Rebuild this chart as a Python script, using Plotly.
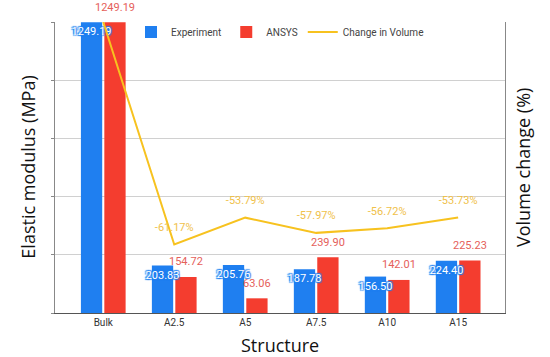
import plotly.graph_objects as go

categories = ["Bulk", "A2.5", "A5", "A7.5", "A10", "A15"]
experiment = [1249.19, 203.83, 205.76, 187.78, 156.50, 224.40]
ansys = [1249.19, 154.72, 63.06, 239.90, 142.01, 225.23]
volume_change = [0.0, -61.17, -53.79, -57.97, -56.72, -53.73]
volume_labels = ["", "-61.17%", "-53.79%", "-57.97%", "-56.72%", "-53.73%"]

BLUE = "#1f7ff0"
RED = "#f43d2f"
YELLOW = "#f7c21f"
RED_TXT = "#e5605a"
FONT = "Roboto"

BAR_W = 0.3
GAP = 0.03
X_RANGE = [-0.68, 5.66]
PLOT_W = 450
PX_PER_CAT = PLOT_W / (X_RANGE[1] - X_RANGE[0])

fig = go.Figure()
# ANSYS drawn first so the Experiment labels sit on top of the red bars
fig.add_trace(go.Bar(
    x=categories, y=ansys, name="ANSYS", marker_color=RED, marker_line_width=0,
    width=BAR_W, offset=GAP / 2, legendrank=2, cliponaxis=False,
))
fig.add_trace(go.Bar(
    x=categories, y=experiment, name="Experiment", marker_color=BLUE,
    marker_line_width=0, width=BAR_W, offset=-BAR_W - GAP / 2, legendrank=1,
    texttemplate="%{y:.2f}", textposition="inside", insidetextanchor="end",
    textangle=0, constraintext="none", cliponaxis=False,
    textfont=dict(color="white", size=11, family=FONT,
                  shadow=f"1px 1px 1px {BLUE}, -1px -1px 1px {BLUE}, 1px -1px 1px {BLUE}, -1px 1px 1px {BLUE}"),
))
fig.add_trace(go.Scatter(
    x=categories, y=volume_change, name="Change in Volume", yaxis="y2",
    mode="lines+markers+text", text=volume_labels, textposition="top center",
    line=dict(color=YELLOW, width=2), cliponaxis=False, legendrank=3,
    marker=dict(size=16, color="rgba(0,0,0,0)"),
    textfont=dict(color="#f0c14a", size=11, family=FONT),
))

red_labels = [
    dict(x=c, y=v, xref="x", yref="y", text=f"{v:.2f}", showarrow=False,
         xshift=(GAP / 2 + BAR_W / 2) * PX_PER_CAT, yshift=15,
         font=dict(size=11, color=RED_TXT, family=FONT))
    for c, v in zip(categories, ansys)
]

fig.update_layout(
    width=550, height=357,
    margin=dict(l=55, r=45, t=22, b=44),
    paper_bgcolor="white", plot_bgcolor="white",
    barmode="overlay",
    showlegend=True,
    legend=dict(orientation="h", x=0.5, xanchor="center", y=0.966, yanchor="middle",
                font=dict(size=10, color="#444", family=FONT), bgcolor="rgba(0,0,0,0)",
                itemwidth=30, traceorder="normal"),
    xaxis=dict(range=X_RANGE, showgrid=False, showline=True, linecolor="#555",
               linewidth=1, tickfont=dict(size=10, color="#333", family=FONT),
               ticks="", fixedrange=True),
    yaxis=dict(range=[0, 1250], dtick=250, showticklabels=False, showgrid=True,
               gridcolor="#d0d0d0", showline=True, linecolor="#888", ticks="outside",
               ticklen=3, tickcolor="#888", zeroline=False),
    yaxis2=dict(range=[-80, 0], dtick=16, overlaying="y", side="right",
                showticklabels=False, showgrid=False, showline=True, linecolor="#888",
                ticks="", zeroline=False),
    annotations=red_labels + [
        dict(text="Elastic modulus (MPa)", xref="paper", yref="paper",
             x=-0.093, y=0.5, textangle=-90, showarrow=False,
             font=dict(size=18, color="#111", family="Open Sans")),
        dict(text="Volume change (%)", xref="paper", yref="paper",
             x=1.07, y=0.5, textangle=-90, showarrow=False,
             font=dict(size=18, color="#111", family="Open Sans")),
        dict(text="Structure", xref="paper", yref="paper",
             x=0.5, y=-0.11, yanchor="middle", showarrow=False,
             font=dict(size=18, color="#111", family="Open Sans")),
    ],
)

fig.write_html("out.html", config={"displayModeBar": False},
               post_script="document.body.style.margin='0px';")
